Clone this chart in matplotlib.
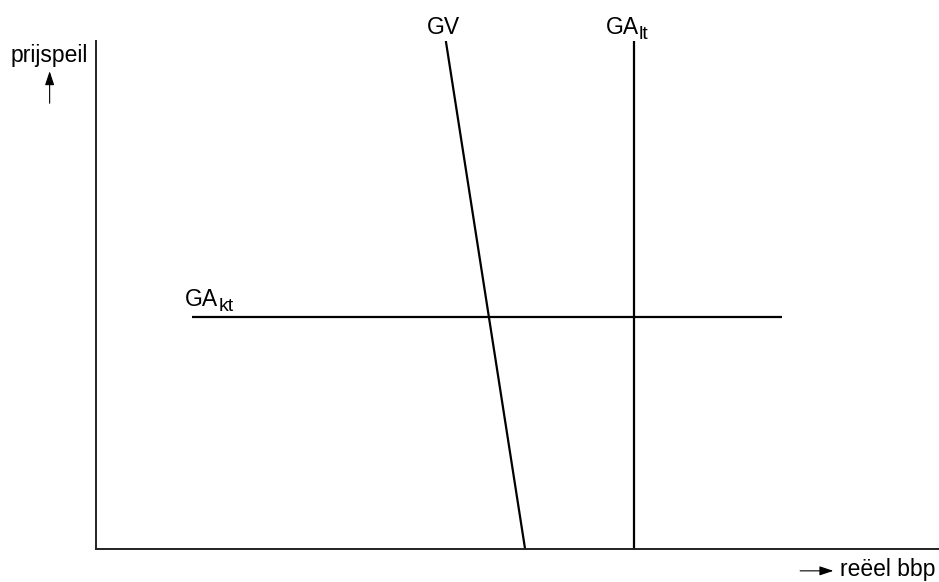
import matplotlib
matplotlib.use("Agg")
import matplotlib.pyplot as plt

plt.rcParams['font.family'] = ['Liberation Sans', 'DejaVu Sans']

# schematic curves (reeel bbp 0-100, prijspeil 0-100)
gv_x = [41.5, 50.9]
gv_y = [100, 0]
ga_lt_x = [63.8, 63.8]
ga_lt_y = [100, 0]
ga_kt_x = [11.4, 81.4]
ga_kt_y = [45.7, 45.7]

fig = plt.figure(figsize=(9.39, 5.82), dpi=100)
ax = fig.add_axes([96 / 939, 33 / 582, 843 / 939, 508 / 582])
ax.set_xlim(0, 100)
ax.set_ylim(0, 100)

ax.plot(gv_x, gv_y, color='black', lw=1.6, solid_capstyle='butt')
ax.plot(ga_lt_x, ga_lt_y, color='black', lw=1.6, solid_capstyle='butt')
ax.plot(ga_kt_x, ga_kt_y, color='black', lw=1.6, solid_capstyle='butt')

for s in ['top', 'right']:
    ax.spines[s].set_visible(False)
for s in ['left', 'bottom']:
    ax.spines[s].set_linewidth(1.4)
    ax.spines[s].set_color('#222222')
ax.set_xticks([])
ax.set_yticks([])

fs = 16.5
sub = 14
ax.text(41.2, 101.4, 'GV', fontsize=fs, ha='center', va='baseline', clip_on=False)
ax.text(64.4, 101.4, 'GA', fontsize=fs, ha='right', va='baseline', clip_on=False)
ax.text(64.4, 100.3, 'lt', fontsize=sub, ha='left', va='baseline', clip_on=False)
ax.text(14.5, 47.9, 'GA', fontsize=fs, ha='right', va='baseline', clip_on=False)
ax.text(14.5, 46.9, 'kt', fontsize=sub, ha='left', va='baseline', clip_on=False)

ax.text(-5.6, 95.9, 'prijspeil', fontsize=fs, ha='center', va='baseline', clip_on=False)
ax.annotate('', xy=(-5.5, 94.6), xytext=(-5.5, 87.2), annotation_clip=False,
            arrowprops=dict(arrowstyle='-|>,head_length=0.6,head_width=0.2',
                            color='black', lw=0.8, mutation_scale=14))
ax.text(88.3, -5.3, 'reëel bbp', fontsize=fs, ha='left', va='baseline', clip_on=False)
ax.annotate('', xy=(87.8, -4.3), xytext=(83.2, -4.3), annotation_clip=False,
            arrowprops=dict(arrowstyle='-|>,head_length=0.6,head_width=0.2',
                            color='black', lw=0.8, mutation_scale=14))

fig.savefig('out.png', dpi=100)
